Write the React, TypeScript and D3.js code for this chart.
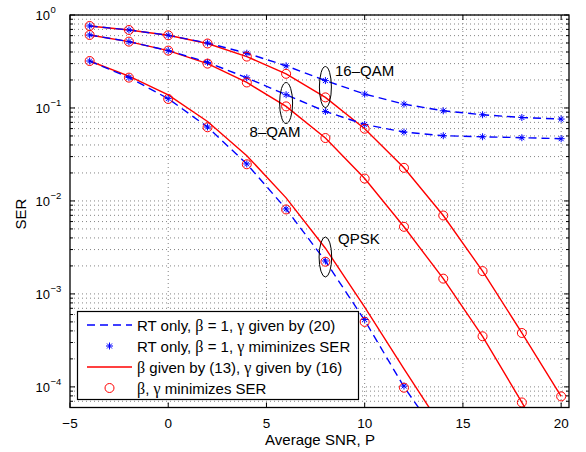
import React from "react";
import * as d3 from "d3";

const width = 586;
const height = 452;

// SNR points (dB)
const snr = [-4, -2, 0, 2, 4, 6, 8, 10, 12, 14, 16, 18, 20];

// QPSK
const qpskRtLine = [0.32, 0.213, 0.126, 0.0624, 0.025, 0.0082, 0.00226, 5.2e-4, 1.0e-4, 2.5e-5];
const qpskRtMarks = [0.32, 0.213, 0.126, 0.0624, 0.025, 0.0082, 0.00226, 5.3e-4, 1.02e-4];
const qpskPropLine = [0.32, 0.22, 0.138, 0.0716, 0.0307, 0.0108, 0.0031, 7.2e-4, 1.56e-4, 3.5e-5];
const qpskPropMarks = [0.32, 0.212, 0.125, 0.062, 0.0248, 0.0081, 0.00222, 5.0e-4, 0.98e-4];

// 8-QAM
const qam8Rt = [0.61, 0.517, 0.414, 0.31, 0.211, 0.139, 0.0917, 0.0665, 0.0551, 0.0503, 0.049, 0.0479, 0.0467];
const qam8Prop = [0.61, 0.517, 0.414, 0.3, 0.188, 0.104, 0.0475, 0.0174, 0.00527, 0.00146, 3.5e-4, 6.8e-5, 1.3e-5];

// 16-QAM
const qam16Rt = [0.762, 0.69, 0.605, 0.5, 0.388, 0.284, 0.197, 0.141, 0.11, 0.0933, 0.0845, 0.079, 0.076];
const qam16Prop = [0.762, 0.69, 0.605, 0.494, 0.357, 0.233, 0.13, 0.0598, 0.0227, 0.00697, 0.00176, 3.8e-4, 7.9e-5];

const xTicks = [-5, 0, 5, 10, 15, 20];
const yExps = [0, -1, -2, -3, -4];

const legendLabels = [
  ["RT only, ", "β", " = 1, ", "γ", " given by (20)"],
  ["RT only, ", "β", " = 1, ", "γ", " miminizes SER"],
  ["", "β", " given by (13), ", "γ", " given by (16)"],
  ["", "β", ", ", "γ", " minimizes SER"],
];

const BLUE = "#0000ff";
const RED = "#ff0000";
const FONT = "'Liberation Sans', Arial, sans-serif";
const GREEK = "'Liberation Serif', 'Times New Roman', serif";

const left = 70;
const right = 569;
const top = 15;
const bottom = 407.5;

const x = d3.scaleLinear().domain([-5, 20.4]).range([left, right]);
const y = d3.scaleLog().domain([6e-5, 1]).range([bottom, top]);

const line = d3
  .line<number>()
  .x((_, i) => x(snr[i]))
  .y((d) => y(d));

const Star = ({ cx, cy }: { cx: number; cy: number }) => (
  <path
    d={`M${cx - 3.5},${cy}H${cx + 3.5}M${cx},${cy - 3.5}V${cy + 3.5}M${cx - 2.5},${cy - 2.5}L${cx + 2.5},${cy + 2.5}M${cx - 2.5},${cy + 2.5}L${cx + 2.5},${cy - 2.5}`}
    stroke={BLUE}
    strokeWidth={1}
    fill="none"
  />
);

const Ring = ({ cx, cy }: { cx: number; cy: number }) => (
  <circle cx={cx} cy={cy} r={4.5} stroke={RED} strokeWidth={1} fill="none" />
);

export default function App() {
  const minor: number[] = [];
  for (let e = -5; e < 0; e++) {
    for (let m = 2; m <= 9; m++) {
      const v = m * Math.pow(10, e);
      if (v >= 6e-5 && v <= 1) minor.push(v);
    }
  }
  const major = yExps.map((e) => Math.pow(10, e));

  const rtLines = [qpskRtLine, qam8Rt, qam16Rt];
  const propLines = [qpskPropLine, qam8Prop, qam16Prop];
  const rtMarks = [qpskRtMarks, qam8Rt, qam16Rt];
  const propMarks = [qpskPropMarks, qam8Prop, qam16Prop];

  const lx0 = 77.5;
  const ly0 = 311.5;
  const rows = [325, 346, 367, 388];

  return (
    <svg width={width} height={height} style={{ position: "absolute", left: 0, top: 0 }}>
      <rect x={0} y={0} width={width} height={height} fill="#fff" />
      <defs>
        <clipPath id="plot">
          <rect x={left} y={top} width={right - left} height={bottom - top} />
        </clipPath>
      </defs>

      {/* grid */}
      <g stroke="#000" strokeWidth={0.8} strokeDasharray="1,3" opacity={0.6}>
        {xTicks.slice(1).map((t) => (
          <line key={"gx" + t} x1={x(t)} x2={x(t)} y1={top} y2={bottom} />
        ))}
        {major.concat(minor).map((v, i) => (
          <line key={"gy" + i} x1={left} x2={right} y1={y(v)} y2={y(v)} />
        ))}
      </g>

      {/* ticks */}
      <g stroke="#000" strokeWidth={1}>
        {xTicks.map((t) => (
          <g key={"tx" + t}>
            <line x1={x(t)} x2={x(t)} y1={bottom} y2={bottom - 5} />
            <line x1={x(t)} x2={x(t)} y1={top} y2={top + 5} />
          </g>
        ))}
        {major.map((v, i) => (
          <g key={"ty" + i}>
            <line x1={left} x2={left + 5} y1={y(v)} y2={y(v)} />
            <line x1={right} x2={right - 5} y1={y(v)} y2={y(v)} />
          </g>
        ))}
        {minor.map((v, i) => (
          <g key={"tm" + i}>
            <line x1={left} x2={left + 3} y1={y(v)} y2={y(v)} />
            <line x1={right} x2={right - 3} y1={y(v)} y2={y(v)} />
          </g>
        ))}
      </g>

      {/* curves */}
      <g clipPath="url(#plot)" fill="none">
        {propLines.map((d, i) => (
          <path key={"pl" + i} d={line(d) || ""} stroke={RED} strokeWidth={1.4} />
        ))}
        {rtLines.map((d, i) => (
          <path key={"rl" + i} d={line(d) || ""} stroke={BLUE} strokeWidth={1.4} strokeDasharray="8,5" />
        ))}
        {rtMarks.map((d, i) =>
          d.map((v, j) => <Star key={"s" + i + "-" + j} cx={x(snr[j])} cy={y(v)} />)
        )}
        {propMarks.map((d, i) =>
          d.map((v, j) => <Ring key={"c" + i + "-" + j} cx={x(snr[j])} cy={y(v)} />)
        )}
      </g>

      {/* frame */}
      <rect x={left} y={top} width={right - left} height={bottom - top} fill="none" stroke="#000" strokeWidth={1.3} />

      {/* annotations */}
      <g fill="none" stroke="#000" strokeWidth={1}>
        <ellipse cx={x(6)} cy={103} rx={6.5} ry={20.5} />
        <ellipse cx={x(8)} cy={87} rx={6} ry={20.5} />
        <ellipse cx={x(8)} cy={257} rx={6.3} ry={20} />
      </g>
      <g fontFamily={FONT} fontSize={15} fill="#000">
        <text x={275} y={137} textAnchor="middle">8–QAM</text>
        <text x={335} y={76}>16–QAM</text>
        <text x={338} y={244}>QPSK</text>
      </g>

      {/* axis labels */}
      <g fontFamily={FONT} fontSize={13.5} fill="#000">
        {xTicks.map((t) => (
          <text key={"lx" + t} x={x(t)} y={427.5} textAnchor="middle">
            {t < 0 ? "−" + Math.abs(t) : t}
          </text>
        ))}
        {yExps.map((e) => (
          <text key={"ly" + e} x={50} y={y(Math.pow(10, e)) + 5} textAnchor="end" fontSize={13}>
            10
          </text>
        ))}
        {yExps.map((e) => (
          <text key={"le" + e} x={50.5} y={y(Math.pow(10, e)) - 2} fontSize={9.5}>
            {e === 0 ? "0" : "−" + Math.abs(e)}
          </text>
        ))}
        <text x={320} y={445} textAnchor="middle" fontSize={15}>Average SNR, P</text>
        <text transform="translate(26,214) rotate(-90)" textAnchor="middle" fontSize={15}>SER</text>
      </g>

      {/* legend */}
      <rect x={lx0} y={ly0} width={281} height={88} fill="#fff" stroke="#000" strokeWidth={1.2} />
      <line x1={87} x2={132} y1={rows[0]} y2={rows[0]} stroke={BLUE} strokeWidth={1.4} strokeDasharray="8,5" />
      <Star cx={109.5} cy={rows[1]} />
      <line x1={87} x2={132} y1={rows[2]} y2={rows[2]} stroke={RED} strokeWidth={1.4} />
      <Ring cx={109.5} cy={rows[3]} />
      <g fontFamily={FONT} fontSize={15} fill="#000">
        {legendLabels.map((parts, i) => (
          <text key={"lg" + i} x={137} y={rows[i] + 5.5}>
            {parts.map((p, k) =>
              k === 1 || k === 3 ? (
                <tspan key={k} fontFamily={GREEK} fontSize={16}>
                  {p}
                </tspan>
              ) : (
                <tspan key={k}>{p}</tspan>
              )
            )}
          </text>
        ))}
      </g>
    </svg>
  );
}
